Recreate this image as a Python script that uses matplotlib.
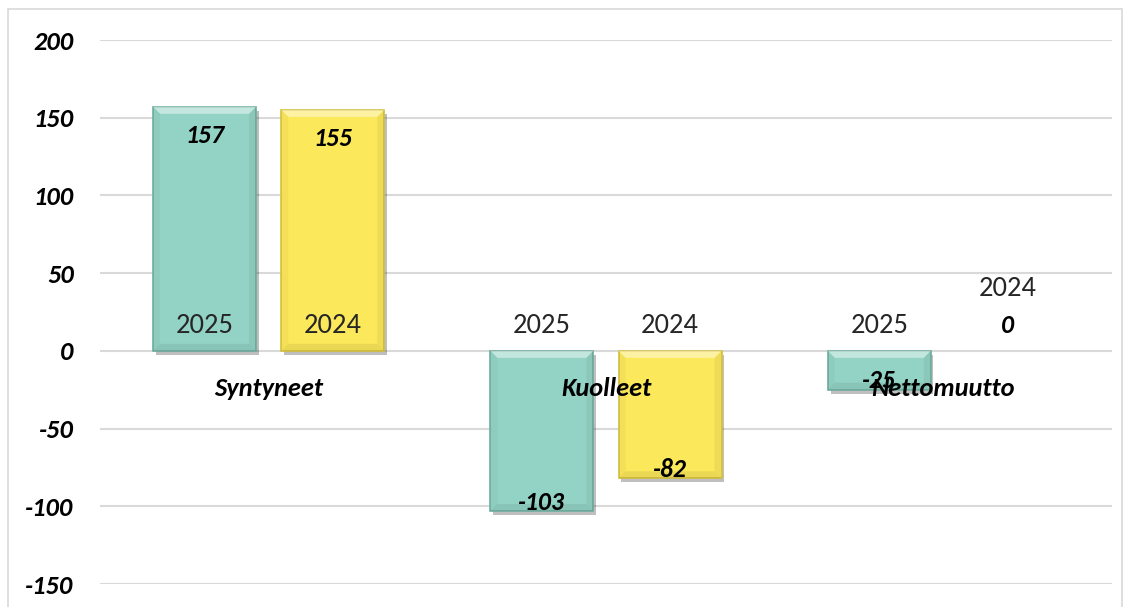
import matplotlib
matplotlib.use("Agg")
import matplotlib.pyplot as plt
import matplotlib.patheffects as pe
from matplotlib.patches import Rectangle, Polygon
import numpy as np

# data
categories = ["Syntyneet", "Kuolleet", "Nettomuutto"]
series = ["2025", "2024"]
values_2025 = [157, -103, -25]
values_2024 = [155, -82, 0]
yticks = [-150, -100, -50, 0, 50, 100, 150, 200]

colors = {"2025": "#93D3C5", "2024": "#FCE85B"}
edges = {"2025": "#6FAE9F", "2024": "#D6C23E"}

plt.rcParams['font.family'] = ['Carlito', 'DejaVu Sans']

fig = plt.figure(figsize=(11.29, 6.07), dpi=100)
ax = fig.add_axes([100 / 1129, 23 / 607, 1012 / 1129, 544 / 607])

# outer chart frame
fig.patches.append(Rectangle((8 / 1129, -0.1), 1114 / 1129, 1.085,
                             transform=fig.transFigure, fill=False,
                             edgecolor="#d9d9d9", linewidth=1.2))

x = np.arange(len(categories))
width = 0.305
offsets = {"2025": -0.19, "2024": 0.19}
data = {"2025": values_2025, "2024": values_2024}

ax.set_xlim(-0.5, len(categories) - 0.5)
ax.set_ylim(-150, 200)

shadow = [pe.SimplePatchShadow(offset=(2, -3), shadow_rgbFace="#000000", alpha=0.25), pe.Normal()]
lbl = dict(fontsize=18.5, fontweight="bold", fontstyle="italic", color="black", zorder=5)

# bevel size in data units (about 7 px)
bx = 7 * 3 / 1012
by = 7 * 350 / 544


def bevel(b):
    x0, x1 = b.get_x(), b.get_x() + b.get_width()
    y0, y1 = sorted([b.get_y(), b.get_y() + b.get_height()])
    d = min(by, (y1 - y0) / 3)
    parts = [
        ([(x0, y1), (x1, y1), (x1 - bx, y1 - d), (x0 + bx, y1 - d)], "white", 0.45),
        ([(x0, y0), (x1, y0), (x1 - bx, y0 + d), (x0 + bx, y0 + d)], "black", 0.07),
        ([(x0, y0), (x0, y1), (x0 + bx, y1 - d), (x0 + bx, y0 + d)], "black", 0.03),
        ([(x1, y0), (x1, y1), (x1 - bx, y1 - d), (x1 - bx, y0 + d)], "black", 0.05),
    ]
    for pts, c, a in parts:
        ax.add_patch(Polygon(pts, closed=True, facecolor=c, alpha=a,
                             edgecolor="none", zorder=4))


for s in series:
    bars = ax.bar(x + offsets[s], data[s], width, color=colors[s],
                  edgecolor=edges[s], linewidth=1.2, zorder=3)
    for b, v in zip(bars, data[s]):
        if v == 0:
            b.set_visible(False)
        else:
            b.set_path_effects(shadow)
            bevel(b)
    for xi, v in zip(x + offsets[s], data[s]):
        # value label at the bar end
        if v > 0:
            ax.annotate(str(v), (xi, v), xytext=(0, -12), textcoords="offset points",
                        ha="center", va="top", **lbl)
        elif v < 0:
            ax.annotate(str(v), (xi, v), xytext=(0, -2), textcoords="offset points",
                        ha="center", va="bottom", **lbl)
        else:
            ax.annotate(str(v), (xi, v), xytext=(0, 18), textcoords="offset points",
                        ha="center", va="center", **lbl)
        # series name label near the zero line
        dy = 45 if v == 0 else 18
        ax.annotate(s, (xi, 0), xytext=(0, dy), textcoords="offset points",
                    ha="center", va="center", fontsize=20.5, color="#262626", zorder=5)

# category labels below zero line
for xi, c in zip(x, categories):
    ax.annotate(c, (xi, 0), xytext=(0, -27), textcoords="offset points",
                ha="center", va="center", fontsize=19, fontweight="bold",
                fontstyle="italic", color="black", zorder=6)

ax.set_yticks(yticks)
ax.set_yticklabels([str(t) for t in yticks], fontsize=19, fontweight="bold",
                   fontstyle="italic")
ax.set_xticks([])
ax.tick_params(axis="y", length=0, pad=19)
ax.grid(axis="y", color="#d9d9d9", linewidth=1.5, zorder=0)
ax.set_axisbelow(True)
for sp in ax.spines.values():
    sp.set_visible(False)

fig.savefig("out.png", dpi=100)
